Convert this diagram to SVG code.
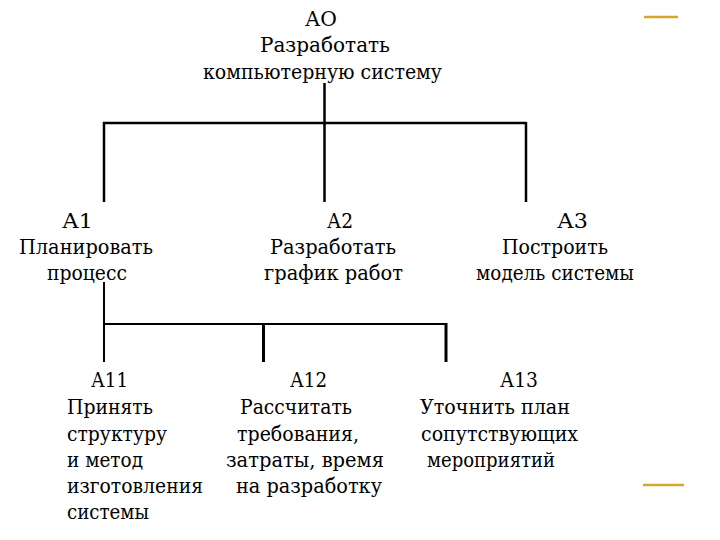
<svg xmlns="http://www.w3.org/2000/svg" width="720" height="540" viewBox="0 0 720 540">
<style>
text{font-family:'DejaVu Serif','Liberation Serif','Times New Roman',serif;font-size:21px;fill:#000}
.c{stroke:#000;fill:none;stroke-linecap:butt}
.t{stroke-width:2.5}
.s{stroke-width:2}
.v{stroke-width:3}
.deco{stroke:#D4A62A;stroke-width:2.5}
</style>
<rect width="720" height="540" fill="#fff"/>
<g id="connectors">
<line class="c t" x1="324.5" y1="83" x2="324.5" y2="202"/>
<line class="c t" x1="103" y1="123" x2="526" y2="123"/>
<line class="c t" x1="104" y1="122" x2="104" y2="202"/>
<line class="c t" x1="526" y1="122" x2="526" y2="202"/>
<line class="c s" x1="104" y1="282" x2="104" y2="362"/>
<line class="c s" x1="103" y1="324" x2="447" y2="324"/>
<line class="c v" x1="263.5" y1="323" x2="263.5" y2="362"/>
<line class="c v" x1="446" y1="323" x2="446" y2="362"/>
</g>
<g id="A0">
<text x="305" y="26" textLength="32" lengthAdjust="spacingAndGlyphs">АО</text>
<text x="260" y="52" textLength="130" lengthAdjust="spacingAndGlyphs">Разработать</text>
<text x="203" y="79" textLength="239" lengthAdjust="spacingAndGlyphs">компьютерную систему</text>
</g>
<g id="A1">
<text x="62" y="228" textLength="31" lengthAdjust="spacingAndGlyphs">А1</text>
<text x="19" y="254" textLength="134" lengthAdjust="spacingAndGlyphs">Планировать</text>
<text x="47" y="280" textLength="80" lengthAdjust="spacingAndGlyphs">процесс</text>
</g>
<g id="A2">
<text x="327" y="228" textLength="26" lengthAdjust="spacingAndGlyphs">А2</text>
<text x="270" y="254" textLength="126" lengthAdjust="spacingAndGlyphs">Разработать</text>
<text x="264" y="280" textLength="139" lengthAdjust="spacingAndGlyphs">график работ</text>
</g>
<g id="A3">
<text x="557" y="228" textLength="31" lengthAdjust="spacingAndGlyphs">А3</text>
<text x="502" y="254" textLength="106" lengthAdjust="spacingAndGlyphs">Построить</text>
<text x="476" y="280" textLength="158" lengthAdjust="spacingAndGlyphs">модель системы</text>
</g>
<g id="A11">
<text x="91" y="387" textLength="37" lengthAdjust="spacingAndGlyphs">А11</text>
<text x="67" y="414" textLength="86" lengthAdjust="spacingAndGlyphs">Принять</text>
<text x="67" y="441" textLength="100" lengthAdjust="spacingAndGlyphs">структуру</text>
<text x="67" y="467" textLength="76" lengthAdjust="spacingAndGlyphs">и метод</text>
<text x="67" y="493" textLength="136" lengthAdjust="spacingAndGlyphs">изготовления</text>
<text x="67" y="519" textLength="82" lengthAdjust="spacingAndGlyphs">системы</text>
</g>
<g id="A12">
<text x="290" y="387" textLength="37" lengthAdjust="spacingAndGlyphs">А12</text>
<text x="240" y="414" textLength="112" lengthAdjust="spacingAndGlyphs">Рассчитать</text>
<text x="237" y="441" textLength="122" lengthAdjust="spacingAndGlyphs">требования,</text>
<text x="226" y="467" textLength="158" lengthAdjust="spacingAndGlyphs">затраты, время</text>
<text x="236" y="493" textLength="146" lengthAdjust="spacingAndGlyphs">на разработку</text>
</g>
<g id="A13">
<text x="500" y="387" textLength="38" lengthAdjust="spacingAndGlyphs">А13</text>
<text x="420" y="414" textLength="150" lengthAdjust="spacingAndGlyphs">Уточнить план</text>
<text x="421" y="441" textLength="157" lengthAdjust="spacingAndGlyphs">сопутствующих</text>
<text x="427" y="467" textLength="128" lengthAdjust="spacingAndGlyphs">мероприятий</text>
</g>
<g id="decor">
<line class="deco" x1="644" y1="17" x2="678" y2="17"/>
<line class="deco" x1="643" y1="485" x2="684" y2="485"/>
</g>
</svg>
